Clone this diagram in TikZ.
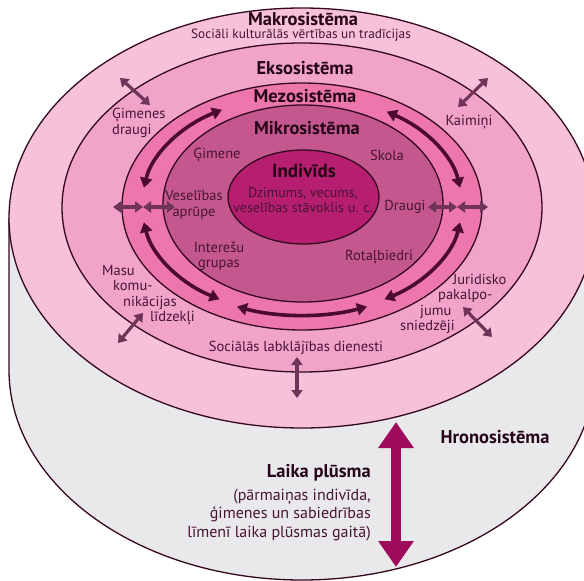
\documentclass[tikz,border=0pt]{standalone}
\usepackage{fontspec}
\setmainfont{PT Sans}
\usepackage{xcolor}
\usetikzlibrary{arrows.meta,positioning}

\definecolor{makrocol}{RGB}{246,193,217}
\definecolor{eksocol}{RGB}{241,163,201}
\definecolor{mezocol}{RGB}{237,119,173}
\definecolor{mikrocol}{RGB}{196,88,142}
\definecolor{indivcol}{RGB}{182,31,112}
\definecolor{sidecol}{RGB}{233,233,235}
\definecolor{edgecol}{RGB}{52,8,30}
\definecolor{textcol}{RGB}{72,20,52}
\definecolor{headcol}{RGB}{38,6,22}
\definecolor{linkcol}{RGB}{112,52,88}
\definecolor{flowcol}{RGB}{76,10,46}
\definecolor{timecol}{RGB}{158,10,92}

\newcommand{\systemRing}[5]
{
	\filldraw[fill=#1, draw=edgecol, line width=1.3pt] (#2,#3) ellipse [x radius=#4, y radius=#5];
}
\newcommand{\mezoArc}[4]
{
	\draw[flow] (302,205) ++(#1:#3 and #4) arc[start angle=#1, end angle=#2, x radius=#3, y radius=#4];
}

\begin{document}
\begin{tikzpicture}[x=1pt,y=-1pt,
	lbl/.style={text=textcol, font=\fontsize{14.5}{15.5}\selectfont, align=center, inner sep=0pt},
	head/.style={text=headcol, font=\bfseries\fontsize{18.5}{20}\selectfont, inner sep=0pt},
	link/.style={{Triangle[width=11pt,length=8pt]}-{Triangle[width=11pt,length=8pt]}, draw=linkcol, line width=3.2pt},
	flow/.style={{Triangle[width=12pt,length=10pt]}-{Triangle[width=12pt,length=10pt]}, draw=flowcol, line width=3.6pt},
	timeline/.style={{Triangle[width=34pt,length=26pt]}-{Triangle[width=34pt,length=26pt]}, draw=timecol, line width=10pt}]
\useasboundingbox (0,0) rectangle (584,581);
\clip (0,0) rectangle (584,581);

\fill[sidecol] (9,218) -- (9,370) arc[start angle=180, end angle=0, x radius=293, y radius=210] -- (595,218) -- cycle;
\draw[edgecol, line width=1.3pt] (9,218) -- (9,370) arc[start angle=180, end angle=0, x radius=293, y radius=210] -- (595,218);

\systemRing{makrocol}{302}{218}{293}{210}
\systemRing{eksocol}{302}{207.5}{240}{164.5}
\systemRing{mezocol}{302}{206.5}{180}{123.5}
\systemRing{mikrocol}{303}{203.5}{140}{98.5}
\systemRing{indivcol}{303.5}{197}{75.5}{47}

\mezoArc{-120}{-171}{160}{110}
\mezoArc{171}{121}{160}{110}
\mezoArc{112.5}{67.5}{170}{110}
\mezoArc{59}{9}{160}{110}
\mezoArc{-9}{-58}{160}{110}

\draw[link] (113,207) -- (143,207);
\draw[link] (143,207) -- (175,207);
\draw[link] (428,207) -- (457,207);
\draw[link] (457,207) -- (488,207);
\draw[link] (120,78) -- (150,105);
\draw[link] (458,107) -- (488,78);
\draw[link] (143,313) -- (118,343);
\draw[link] (463,307) -- (492,337);
\draw[link] (297,357) -- (297,398);

\draw[timeline] (396,422) -- (396,567);

\node[head] (makro) at (303,19) {Makrosistēma};
\node[lbl, font=\fontsize{13.3}{14}\selectfont] (makrotxt) at (301,35.5) {Sociāli kulturālās vērtības un tradīcijas};
\node[head] (ekso) at (305,68) {Eksosistēma};
\node[head] (mezo) at (305,96) {Mezosistēma};
\node[head] (mikro) at (307,128) {Mikrosistēma};
\node[head, font=\bfseries\fontsize{19}{20}\selectfont] (indiv) at (304,171) {Indivīds};
\node[lbl, font=\fontsize{14}{15.5}\selectfont] (indivtxt) at (303,200) {Dzimums, vecums,\\veselības stāvoklis u. c.};

\node[lbl] (gimene) at (217,155) {Ģimene};
\node[lbl] (skola) at (387,155) {Skola};
\node[lbl] (veseliba) at (194,205) {Veselības\\aprūpe};
\node[lbl] (draugi) at (405,207) {Draugi};
\node[lbl] (interesu) at (219,256) {Interešu\\grupas};
\node[lbl] (rotal) at (379,257) {Rotaļbiedri};

\node[lbl, align=left, anchor=west] (gimdraugi) at (112,123) {Ģimenes\\draugi};
\node[lbl] (kaimini) at (469,122) {Kaimiņi};
\node[lbl, align=left, anchor=north west] (masu) at (102,265) {Masu\\\hspace*{11pt}komu-\\\hspace*{21pt}nikācijas\\\hspace*{48pt}līdzekļi};
\node[lbl, align=left, anchor=north west] (juridisko) at (400,274) {\hspace*{53pt}Juridisko\\\hspace*{38pt}pakalpo-\\\hspace*{20pt}jumu\\sniedzēji};
\node[lbl] (socdien) at (296,348) {Sociālās labklājības dienesti};

\node[head] (hrono) at (495,437) {Hronosistēma};
\node[head, anchor=east] (laika) at (371,473) {Laika plūsma};
\node[lbl, font=\fontsize{16}{18.5}\selectfont, align=right, anchor=north east] (laikatxt) at ([yshift=-7pt]laika.south east) {(pārmaiņas indivīda,\\ģimenes un sabiedrības\\līmenī laika plūsmas gaitā)};
\end{tikzpicture}
\end{document}
